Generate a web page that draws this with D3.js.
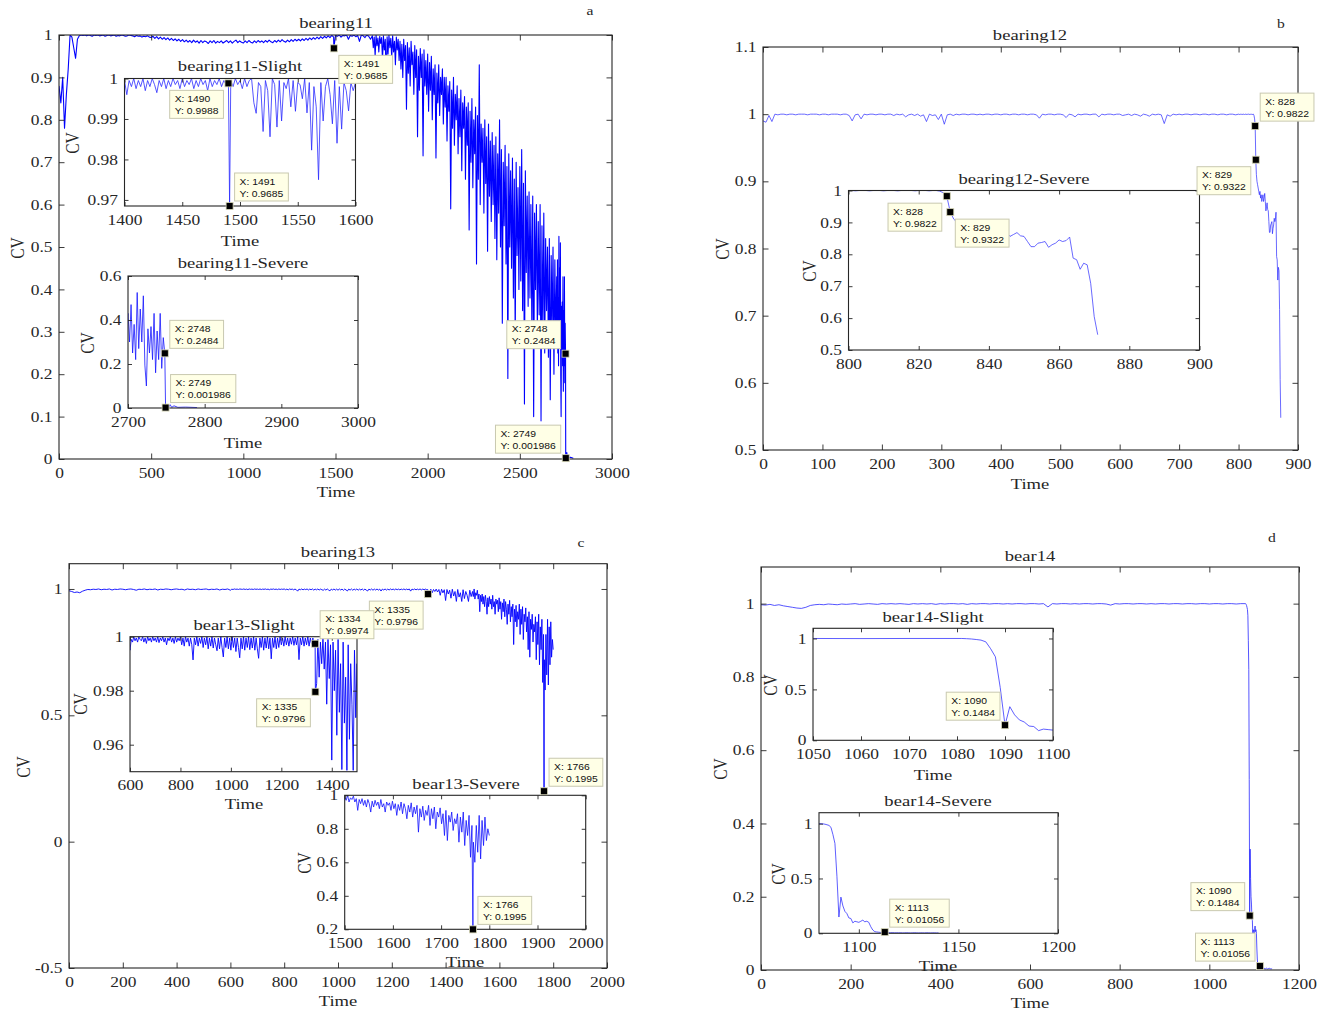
<!DOCTYPE html>
<html><head><meta charset="utf-8">
<script src="https://cdn.jsdelivr.net/npm/d3@7/dist/d3.min.js"></script>
<style>body{margin:0;background:#fff}</style>
</head><body><svg id="chart" width="1327" height="1011"></svg>
<script>
// ---------------- DATA ----------------
// bearing11: values every 10 from t=0 to 1690
const a11Main = [
0.88,0.84,0.9,0.78,0.86,0.92,1.0,0.995,0.97,0.945,
0.99,0.998,1.0,0.999,1.0,0.998,1.0,0.999,0.997,1.0,
0.999,1.0,0.998,0.999,1.0,0.997,0.999,1.0,0.998,0.999,
1.0,0.997,0.999,0.998,1.0,0.999,0.997,0.998,1.0,0.999,
0.998,0.996,0.999,0.997,0.998,0.995,0.997,0.996,0.998,0.995,
0.994,0.997,0.992,0.996,0.991,0.995,0.99,0.994,0.989,0.993,
0.988,0.992,0.987,0.991,0.986,0.99,0.985,0.989,0.984,0.988,
0.983,0.987,0.982,0.988,0.983,0.986,0.981,0.987,0.982,0.986,
0.984,0.98,0.986,0.982,0.987,0.981,0.985,0.982,0.986,0.981,
0.984,0.987,0.982,0.986,0.981,0.985,0.988,0.982,0.986,0.983,
0.981,0.986,0.982,0.987,0.983,0.981,0.986,0.982,0.987,0.983,
0.986,0.982,0.987,0.983,0.988,0.984,0.982,0.987,0.983,0.988,
0.984,0.989,0.985,0.983,0.988,0.984,0.989,0.985,0.99,0.986,
0.99,0.986,0.991,0.987,0.992,0.988,0.993,0.989,0.994,0.99,
0.995,0.991,0.996,0.992,0.997,0.993,0.998,0.994,0.999,0.995,
0.999,0.997,1.0,0.995,0.999,0.998,1.0,0.99,0.999,0.997,
1.0,0.996,0.999,0.985,1.0,0.998,0.994,1.0,0.997,0.99
];
// bearing11 noisy part: values every 5 from t=1700 to 2695
const a11Noisy = [
0.998,0.97,0.995,0.95,0.999,0.975,0.993,0.96,0.997,0.98,
0.994,0.94,0.998,0.965,0.99,0.89,0.996,0.955,0.999,0.97,
0.992,0.945,0.998,0.96,0.985,0.93,0.995,0.965,0.99,0.94,
0.985,0.92,0.978,0.9,0.99,0.94,0.975,0.825,0.982,0.91,
0.97,0.88,0.985,0.93,0.96,0.86,0.975,0.9,0.965,0.76,
0.95,0.87,0.968,0.9,0.955,0.715,0.965,0.88,0.94,0.86,
0.955,0.82,0.935,0.87,0.95,0.8,0.92,0.86,0.93,0.71,
0.91,0.84,0.93,0.81,0.9,0.86,0.92,0.79,0.9,0.83,
0.9,0.75,0.88,0.82,0.89,0.59,0.87,0.78,0.9,0.74,
0.86,0.8,0.88,0.72,0.85,0.76,0.87,0.68,0.84,0.78,
0.855,0.66,0.83,0.74,0.84,0.54,0.82,0.7,0.85,0.64,
0.8,0.72,0.83,0.46,0.81,0.66,0.93,0.6,0.79,0.7,
0.78,0.58,0.8,0.65,0.76,0.49,0.79,0.62,0.75,0.56,
0.77,0.6,0.74,0.52,0.76,0.47,0.72,0.58,0.8,0.5,
0.73,0.32,0.7,0.55,0.74,0.46,0.69,0.19,0.72,0.5,
0.68,0.45,0.71,0.38,0.66,0.27,0.7,0.48,0.64,0.4,
0.69,0.42,0.73,0.35,0.65,0.13,0.68,0.44,0.62,0.36,
0.63,0.38,0.6,0.32,0.62,0.1,0.58,0.4,0.6,0.3,
0.56,0.34,0.6,0.09,0.55,0.3,0.58,0.25,0.52,0.35,
0.5,0.24,0.52,0.14,0.48,0.3,0.5,0.2,0.47,0.28
];
// bearing11 tail: every 2 from t=2700 to 2746
const a11Tail = [0.43,0.3,0.47,0.25,0.38,0.22,0.525,0.27,0.45,0.3,0.51,0.195,0.1,0.36,0.25,0.37,0.22,0.43,0.16,0.35,0.22,0.43,0.18,0.32];
const a11Extra = [[1491,0.9685],[2748,0.2484],[2749,0.001986],[2751,0.012],[2753,0.004],[2755,0.015],[2757,0.003],[2760,0.01],[2765,0.003],[2775,0.004],[2790,0.002]];
// bearing11 slight detail: every 2 from t=1400 to 1600
const a11Slight = [
0.9995,0.996,0.9995,0.998,1.0,0.9975,0.9995,0.998,1.0,0.997,
0.9995,0.998,1.0,0.9985,0.9965,0.9995,0.998,1.0,0.9975,0.9995,
0.998,1.0,0.9985,0.9995,0.9975,1.0,0.998,0.9995,0.9985,1.0,
0.9975,0.9995,0.998,1.0,0.9985,0.9995,0.997,1.0,0.998,0.9995,
0.9985,1.0,0.998,0.9995,0.9985,
0.9988,
0.9995,0.998,1.0,0.9985,0.9995,0.9975,1.0,0.998,0.9995,
1.0,0.994,0.9914,0.999,0.998,0.9869,0.9995,0.997,0.9856,1.0,
0.9985,0.988,0.9995,0.9895,0.999,0.9975,1.0,0.993,0.9995,0.9919,
0.999,0.9985,0.995,1.0,0.9915,0.999,0.9823,0.998,0.993,0.975,
0.999,0.9895,0.998,1.0,0.996,0.9888,0.9995,0.984,0.998,0.9875,
0.999,0.997,0.992,0.999,0.997,0.999
];
const a11SlightExtra = [[1491,0.9685]];

// bearing12: every 5 from t=0 to 795, then every 1 from 800 to 871
const b12Early = [
0.99,0.988,0.998,0.989,1.0,0.999,1.0,1.0,0.999,1.0,
1.0,0.999,1.0,1.0,1.0,0.999,1.0,1.0,1.0,0.999,
1.0,1.0,0.999,1.0,1.0,1.0,0.999,1.0,1.0,0.998,
0.99,0.999,1.0,0.993,1.0,0.999,1.0,1.0,0.999,1.0,
1.0,0.999,1.0,1.0,0.998,1.0,0.999,1.0,0.996,0.999,
1.0,0.998,1.0,0.997,0.999,0.989,1.0,0.998,0.999,0.992,
1.0,0.985,0.999,1.0,0.998,1.0,0.999,1.0,1.0,0.999,
1.0,1.0,0.999,1.0,0.999,1.0,1.0,0.999,1.0,1.0,
0.999,1.0,1.0,0.999,1.0,1.0,0.999,1.0,1.0,0.999,
1.0,1.0,0.999,0.994,1.0,0.999,1.0,1.0,0.999,1.0,
1.0,0.999,0.995,1.0,0.999,0.996,1.0,0.999,1.0,1.0,
0.999,1.0,1.0,0.996,1.0,0.999,1.0,1.0,0.999,1.0,
1.0,0.998,0.999,1.0,0.998,1.0,0.999,0.997,1.0,0.999,
0.997,1.0,0.999,1.0,0.999,0.986,0.999,0.997,1.0,0.999,
1.0,0.999,1.0,1.0,0.999,1.0,1.0,0.999,1.0,1.0,
0.999,1.0,1.0,0.999,1.0,1.0,0.999,1.0,1.0,0.999
];
const b12Late = [
1.0,1.0,0.999,1.0,1.0,1.0,0.999,1.0,1.0,1.0,
0.999,1.0,1.0,1.0,0.999,1.0,1.0,1.0,1.0,0.999,
1.0,1.0,1.0,0.999,1.0,1.0,
0.998,0.993,0.9822,0.9322,0.91,0.9,0.895,0.89,0.885,0.88,
0.885,0.875,0.88,0.87,0.875,0.88,0.87,0.875,0.882,0.87,
0.856,0.862,0.868,0.858,0.856,0.84,0.824,0.824,0.835,0.837,
0.84,0.822,0.83,0.835,0.845,0.84,0.843,0.854,0.788,0.783,
0.753,0.772,0.767,0.709,0.605,0.548
];

// bearing13: every 10 from 0 to 590, every 5 from 600 to 1495, every 3 from 1500 to 1800
const c13Early = [
0.993,0.99,0.986,0.988,0.985,0.991,0.995,0.998,0.997,0.999,
0.998,1.0,0.997,0.999,0.998,1.0,0.996,0.999,0.998,1.0,
0.999,0.997,0.999,1.0,0.998,0.995,0.999,0.998,1.0,0.997,
0.999,0.998,1.0,0.996,0.999,0.998,1.0,0.999,0.997,0.999,
1.0,0.998,0.999,0.996,1.0,0.998,0.999,0.997,1.0,0.998,
0.999,1.0,0.997,0.999,0.998,1.0,0.996,0.999,0.998,1.0
];
const c13Mid = [
0.995,0.999,0.998,1.0,0.9985,0.9995,0.998,1.0,0.999,0.9985,
1.0,0.998,0.9995,0.9975,1.0,0.9985,0.9995,0.998,1.0,0.9985,
0.9995,0.998,1.0,0.9978,0.9995,0.9985,1.0,0.998,0.9995,0.997,
0.9995,0.9985,1.0,0.998,0.9995,0.9975,1.0,0.998,0.9995,0.9985,
1.0,0.997,0.9995,0.9965,1.0,0.998,0.9995,0.9965,0.9995,0.997,
0.9914,0.9995,0.997,1.0,0.9965,0.9995,0.9975,1.0,0.996,0.9995,
0.997,1.0,0.9955,0.9995,0.9965,1.0,0.9958,0.9995,0.997,0.9948,
0.9995,0.9955,1.0,0.996,0.9925,0.9995,0.996,1.0,0.9955,0.9995,
0.995,1.0,0.996,0.9995,0.9945,0.9995,0.996,0.9922,0.9995,0.9955,
1.0,0.995,0.9995,0.996,1.0,0.9952,0.9995,0.9958,1.0,0.995,
0.9995,0.9955,0.992,0.9995,0.996,1.0,0.995,0.9995,0.9958,1.0,
0.9955,0.9995,0.9918,0.9995,0.996,1.0,0.9955,0.9995,0.996,1.0,
0.997,0.9995,0.9965,1.0,0.997,0.9995,0.9965,0.9995,0.9972,1.0,
0.9968,0.9995,0.997,1.0,0.9915,0.9995,0.997,1.0,0.9965,0.9995,
0.997,1.0,0.9965,0.9995,0.9972,0.9995,0.997,0.9796,0.9826,0.999,
0.985,0.998,0.99,0.9995,0.988,0.998,0.975,0.999,0.9845,0.997,
0.9543,0.998,0.98,0.995,0.9635,0.999,0.972,0.99,0.9508,0.998,
0.968,0.985,0.9505,0.997,0.962,0.99,0.975,0.9505,0.995,0.97
];
const c13Late = [
0.99,0.97,1.0,0.96,0.985,0.975,0.995,0.96,0.98,0.91,
0.975,0.95,0.98,0.94,0.97,0.93,0.975,0.95,0.9,0.965,
0.93,0.97,0.94,0.96,0.92,0.975,0.93,0.95,0.9,0.96,
0.94,0.955,0.91,0.965,0.92,0.95,0.88,0.945,0.91,0.96,
0.89,0.95,0.92,0.86,0.94,0.9,0.955,0.87,0.93,0.89,
0.94,0.78,0.92,0.87,0.935,0.85,0.91,0.88,0.94,0.82,
0.92,0.86,0.93,0.8,0.9,0.87,0.925,0.83,0.89,0.76,
0.91,0.73,0.88,0.84,0.9,0.79,0.86,0.83,0.89,0.72,
0.87,0.78,0.9,0.7,0.85,0.76,0.88,0.63,0.82,0.72,
0.6,0.82,0.66,0.88,0.62,0.85,0.7,0.87,0.73,0.8,0.76
];
const c13Extra = [[1334,0.9974],[1766,0.1995]];

// bear14: every 10 from 0 to 1070, every 1 from 1080 to 1140
const d14Early = [
0.997,0.996,0.998,0.995,0.997,0.994,0.992,0.99,0.988,0.987,
0.99,0.995,0.997,0.998,0.997,0.999,0.998,0.997,0.999,0.998,
0.999,1.0,0.998,0.999,1.0,0.999,0.998,1.0,0.999,1.0,
0.999,1.0,0.999,0.998,1.0,0.999,1.0,0.999,1.0,0.998,
1.0,0.999,1.0,1.0,0.999,1.0,0.998,1.0,0.999,1.0,
1.0,0.999,1.0,1.0,0.999,1.0,0.999,1.0,1.0,0.999,
1.0,1.0,0.999,1.0,0.991,1.0,0.999,1.0,1.0,0.999,
1.0,0.999,1.0,1.0,0.999,1.0,1.0,0.999,0.996,1.0,
0.999,1.0,1.0,0.999,1.0,1.0,0.999,1.0,0.999,1.0,
1.0,0.999,1.0,1.0,0.999,1.0,1.0,0.999,1.0,1.0,
0.999,1.0,1.0,0.999,1.0,1.0,0.999,1.0
];
const d14Late = [
1.0,1.0,0.998,0.995,0.99,0.984,0.967,0.9,0.82,0.52,
0.1484,0.33,0.25,0.2,0.18,0.14,0.135,0.095,0.11,0.105,
0.1,0.11,0.12,0.105,0.11,0.1,0.06,0.03,0.015,0.012,
0.01,0.008,0.009,0.01056,0.008,0.006,0.005,0.006,0.004,0.005,
0.004,0.005,0.003,0.004,0.005,0.004,0.003,0.004,0.005,0.004,
0.003,0.004,0.004,0.003,0.005,0.004,0.003,0.004,0.004,0.003,0.004
];

// tick values
const aMainXT = [0,500,1000,1500,2000,2500,3000], aMainYT = [0,0.1,0.2,0.3,0.4,0.5,0.6,0.7,0.8,0.9,1];
const aSlightXT = [1400,1450,1500,1550,1600], aSlightYT = [0.97,0.98,0.99,1];
const aSevereXT = [2700,2800,2900,3000], aSevereYT = [0,0.2,0.4,0.6];
const bMainXT = [0,100,200,300,400,500,600,700,800,900], bMainYT = [0.5,0.6,0.7,0.8,0.9,1,1.1];
const bSevereXT = [800,820,840,860,880,900], bSevereYT = [0.5,0.6,0.7,0.8,0.9,1];
const cMainXT = [0,200,400,600,800,1000,1200,1400,1600,1800,2000], cMainYT = [-0.5,0,0.5,1];
const cSlightXT = [600,800,1000,1200,1400], cSlightYT = [0.96,0.98,1];
const cSevereXT = [1500,1600,1700,1800,1900,2000], cSevereYT = [0.2,0.4,0.6,0.8,1];
const dMainXT = [0,200,400,600,800,1000,1200], dMainYT = [0,0.2,0.4,0.6,0.8,1];
const dSlightXT = [1050,1060,1070,1080,1090,1100], dSlightYT = [0,0.5,1];
const dSevereXT = [1100,1150,1200], dSevereYT = [0,0.5,1];

// data tips
const tipsAMain = [[1491,0.9685],[2748,0.2484],[2749,0.001986]];
const tipsASlight = [[1490,0.9988],[1491,0.9685]];
const tipsASevere = [[2748,0.2484],[2749,0.001986]];
const tipsBMain = [[828,0.9822],[829,0.9322]];
const tipsBSevere = [[828,0.9822],[829,0.9322]];
const tipsCMain = [[1335,0.9796],[1766,0.1995]];
const tipsCSlight = [[1334,0.9974],[1335,0.9796]];
const tipsCSevere = [[1766,0.1995]];
const tipsDMain = [[1090,0.1484],[1113,0.01056]];
const tipsDSlight = [[1090,0.1484]];
const tipsDSevere = [[1113,0.01056]];

// ---------------- DRAWING ----------------
const svg = d3.select('#chart');
const defs = svg.append('defs');
const SX = 1.2, SERIF = '"Liberation Serif","Times New Roman",serif', SANS = '"Liberation Sans",Arial,sans-serif';
const INK = '#262626';
const seq = (start, step, vals) => vals.map((v, i) => [start + i * step, v]);
const merge = (...parts) => parts.flat().sort((p, q) => p[0] - q[0]);
const fmt = v => String(+(+v).toFixed(4));

const serA = merge(seq(0, 10, a11Main), seq(1700, 5, a11Noisy), seq(2700, 2, a11Tail), a11Extra);
const serASlight = merge(seq(1400, 2, a11Slight), a11SlightExtra);
const serB = merge(seq(0, 5, b12Early), seq(800, 1, b12Late));
const serC = merge(seq(0, 10, c13Early), seq(600, 5, c13Mid), seq(1500, 3, c13Late), c13Extra);
const serD = merge(seq(0, 10, d14Early), seq(1080, 1, d14Late));

function label(g, x, y, s, size, anchor, rot) {
  return g.append('text')
    .attr('transform', `translate(${x},${y}) scale(${SX},1)` + (rot ? ` rotate(${rot})` : ''))
    .attr('text-anchor', anchor).attr('font-family', SERIF).attr('font-size', size)
    .attr('fill', INK).attr('dominant-baseline', rot ? 'central' : 'auto').text(s);
}

const tipQueue = [];
function drawAxes(s) {
  const [l, t, r, b] = s.box;
  const x = d3.scaleLinear().domain(s.xd).range([l, r]);
  const y = d3.scaleLinear().domain(s.yd).range([b, t]);
  const g = svg.append('g');
  g.append('rect').attr('x', l).attr('y', t).attr('width', r - l).attr('height', b - t).attr('fill', '#fff');
  const cid = 'clip-' + s.id;
  defs.append('clipPath').attr('id', cid).append('rect')
    .attr('x', l).attr('y', t).attr('width', r - l).attr('height', b - t);
  g.append('path').datum(s.data).attr('clip-path', `url(#${cid})`)
    .attr('fill', 'none').attr('stroke', s.color).attr('stroke-width', s.lw).attr('stroke-linejoin', 'round')
    .attr('d', d3.line().x(d => x(d[0])).y(d => y(d[1])));
  const tl = s.tick;
  const put = (axis, tx, ty, withText) => {
    const a = g.append('g').attr('transform', `translate(${tx},${ty})`).attr('color', INK)
      .call(axis.tickSizeInner(-tl).tickSizeOuter(0));
    a.select('.domain').remove();
    a.selectAll('line').attr('stroke-width', 0.9);
    if (withText) {
      a.selectAll('text').attr('font-family', SERIF).attr('font-size', s.fs).attr('fill', INK)
        .attr('transform', `scale(${SX},1)`);
    }
  };
  put(d3.axisBottom(x).tickValues(s.xt).tickFormat(fmt).tickPadding(8.5), 0, b, true);
  put(d3.axisTop(x).tickValues(s.xt).tickFormat(() => ''), 0, t, false);
  put(d3.axisLeft(y).tickValues(s.yt).tickFormat(fmt).tickPadding(5.5), l, 0, true);
  put(d3.axisRight(y).tickValues(s.yt).tickFormat(() => ''), r, 0, false);
  g.append('rect').attr('x', l).attr('y', t).attr('width', r - l).attr('height', b - t)
    .attr('fill', 'none').attr('stroke', INK).attr('stroke-width', 1.1);
  label(g, s.title[0], s.title[1], s.titleText, s.tfs, 'middle');
  if (s.xlab) label(g, s.xlab[0], s.xlab[1], 'Time', s.tfs, 'middle');
  if (s.ylab) label(g, s.ylab[0], s.ylab[1], 'CV', s.tfs, 'middle', -90);
  tipQueue.push({x, y, tips: s.tips, place: s.place});
}

function drawTips(q) {
  const layer = svg.append('g');
  q.tips.forEach(([tx, ty], i) => {
    const mx = q.x(tx), my = q.y(ty);
    const tg = layer.append('g');
    const box = tg.append('rect').attr('fill', '#ffffe6').attr('stroke', '#c9c9b0').attr('stroke-width', 1);
    const lines = ['X: ' + tx, 'Y: ' + ty];
    const tt = lines.map(s => tg.append('text').attr('font-family', SANS).attr('font-size', 9)
      .attr('fill', '#111').text(s));
    const SXT = 1.15;
    const w = Math.max(...tt.map(t => t.node().getComputedTextLength())) * SXT + 10, h = 28;
    const p = q.place[i];
    const bx = p[1] === 'r' ? mx + 5 : mx - 5 - w;
    const by = p[0] === 't' ? my - 5 - h : my + 7;
    box.attr('x', bx).attr('y', by).attr('width', w).attr('height', h);
    tt.forEach((t, k) => t.attr('transform', `translate(${bx + 5},${by + 11.5 + k * 12}) scale(${SXT},1)`));
    tg.append('rect').attr('x', mx - 3.5).attr('y', my - 3.5).attr('width', 7).attr('height', 7)
      .attr('fill', '#000').attr('stroke', '#d8d8b8').attr('stroke-width', 0.8);
  });
}

const MAIN = {tick: 5.5, fs: 14.5, tfs: 15.5};
const INS = {tick: 4, fs: 14.5, tfs: 15.5};
const specs = [
  {...MAIN, id: 'aM', box: [59, 35, 612, 459], xd: [0, 3000], yd: [0, 1], xt: aMainXT, yt: aMainYT, data: serA,
   color: '#0000ff', lw: 1.1, title: [336, 28], titleText: 'bearing11', xlab: [336, 497], ylab: [18, 248],
   tips: tipsAMain, place: ['br', 'tl', 'tl']},
  {...INS, id: 'aS', box: [124.5, 78.5, 355.5, 206], xd: [1400, 1600], yd: [0.9685, 1], xt: aSlightXT, yt: aSlightYT,
   data: serASlight, color: '#2a2aff', lw: 0.8, title: [240, 71], titleText: 'bearing11-Slight', xlab: [240, 246], ylab: [73, 143],
   tips: tipsASlight, place: ['bl', 'tr']},
  {...INS, id: 'aV', box: [128, 276, 358, 408], xd: [2700, 3000], yd: [0, 0.6], xt: aSevereXT, yt: aSevereYT,
   data: serA, color: '#1515ff', lw: 0.8, title: [243, 268], titleText: 'bearing11-Severe', xlab: [243, 448], ylab: [88, 343],
   tips: tipsASevere, place: ['tr', 'tr']},
  {...MAIN, id: 'bM', box: [763, 47, 1298, 450], xd: [0, 900], yd: [0.5, 1.1], xt: bMainXT, yt: bMainYT, data: serB,
   color: '#2a2aff', lw: 0.7, title: [1030, 40], titleText: 'bearing12', xlab: [1030, 489], ylab: [723, 249],
   tips: tipsBMain, place: ['tr', 'bl']},
  {...INS, id: 'bV', box: [848.5, 190.5, 1199.5, 350], xd: [800, 900], yd: [0.5, 1], xt: bSevereXT, yt: bSevereYT,
   data: serB, color: '#2a2aff', lw: 0.7, title: [1024, 184], titleText: 'bearing12-Severe', xlab: null, ylab: [810, 271],
   tips: tipsBSevere, place: ['bl', 'br']},
  {...MAIN, id: 'cM', box: [69, 563.7, 607, 968], xd: [0, 2000], yd: [-0.5, 1.1], xt: cMainXT, yt: cMainYT, data: serC,
   color: '#0000ff', lw: 0.9, title: [338, 557], titleText: 'bearing13', xlab: [338, 1006], ylab: [24, 767],
   tips: tipsCMain, place: ['bl', 'tr']},
  {...INS, id: 'cS', box: [130, 636.7, 357, 771.7], xd: [600, 1500], yd: [0.95, 1], xt: cSlightXT, yt: cSlightYT,
   data: serC, color: '#0000ff', lw: 0.9, title: [244, 630], titleText: 'bear13-Slight', xlab: [244, 809], ylab: [81, 704],
   tips: tipsCSlight, place: ['tr', 'bl']},
  {...INS, id: 'cV', box: [344.7, 795.3, 585.7, 929.3], xd: [1500, 2000], yd: [0.2, 1], xt: cSevereXT, yt: cSevereYT,
   data: serC, color: '#1010ff', lw: 0.8, title: [466, 789], titleText: 'bear13-Severe', xlab: [465, 967], ylab: [305, 863],
   tips: tipsCSevere, place: ['tr']},
  {...MAIN, id: 'dM', box: [761, 567, 1299, 970], xd: [0, 1200], yd: [0, 1.1], xt: dMainXT, yt: dMainYT, data: serD,
   color: '#2a2aff', lw: 0.8, title: [1030, 561], titleText: 'bear14', xlab: [1030, 1008], ylab: [721, 769],
   tips: tipsDMain, place: ['tl', 'tl']},
  {...INS, id: 'dS', box: [813, 628.3, 1053, 740.3], xd: [1050, 1100], yd: [0, 1.1], xt: dSlightXT, yt: dSlightYT,
   data: serD, color: '#2a2aff', lw: 0.75, title: [933, 622], titleText: 'bear14-Slight', xlab: [933, 780], ylab: [771, 685],
   tips: tipsDSlight, place: ['tl']},
  {...INS, id: 'dV', box: [819, 812.7, 1058, 933.3], xd: [1080, 1200], yd: [0, 1.1], xt: dSevereXT, yt: dSevereYT,
   data: serD, color: '#2a2aff', lw: 0.75, title: [938, 806], titleText: 'bear14-Severe', xlab: [938, 971], ylab: [779, 874],
   tips: tipsDSevere, place: ['tr']}
];
specs.forEach(drawAxes);
tipQueue.forEach(drawTips);

// panel letters
const lg = svg.append('g');
[['a', 590, 15], ['b', 1281, 28], ['c', 581, 547], ['d', 1272, 542]].forEach(([s, x, y]) => label(lg, x, y, s, 13, 'middle'));
</script></body></html>
